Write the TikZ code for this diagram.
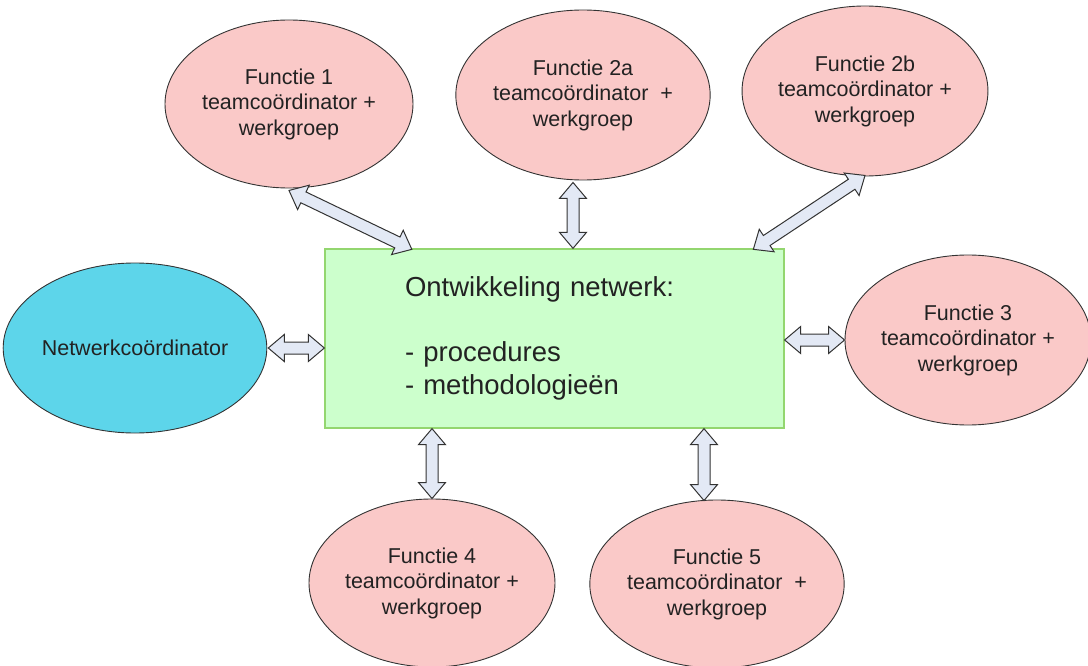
\documentclass[tikz,border=0pt]{standalone}
\usepackage{fontspec}
\setmainfont{Liberation Sans}
\usetikzlibrary{shapes.geometric,calc}

\definecolor{pinkfill}{HTML}{FAC9C8}
\definecolor{cyanfill}{HTML}{5DD5EA}
\definecolor{greenfill}{HTML}{CCFFCC}
\definecolor{greenline}{HTML}{93D66F}
\definecolor{arrowfill}{HTML}{E3E9F5}
\definecolor{outline}{HTML}{333333}
\definecolor{textgray}{HTML}{222222}

\tikzset{
  roundbox/.style={ellipse, draw=outline, line width=0.9pt, inner sep=0pt,
    align=center, text=textgray, font=\fontsize{21.5}{25.5}\selectfont},
  func/.style={roundbox, fill=pinkfill},
  coord/.style={roundbox, fill=cyanfill},
  centerbox/.style={rectangle, draw=greenline, line width=1.3pt, fill=greenfill,
    minimum width=459pt, minimum height=179pt, inner sep=0pt,
    text width=299pt, align=left, text=textgray,
    font=\fontsize{27.5}{32.5}\selectfont},
  blockarrow/.style={draw=outline, fill=arrowfill, line width=1pt, line join=miter}
}

% double-headed block arrow between two named points
\newcommand\dblarrow[2]{%
  \filldraw[blockarrow]
    (#1)
    -- ($(#1)!16pt!(#2)!13.5pt!90:(#2)$)
    -- ($(#1)!16pt!(#2)!6pt!90:(#2)$)
    -- ($(#2)!16pt!(#1)!6pt!-90:(#1)$)
    -- ($(#2)!16pt!(#1)!13.5pt!-90:(#1)$)
    -- (#2)
    -- ($(#2)!16pt!(#1)!13.5pt!90:(#1)$)
    -- ($(#2)!16pt!(#1)!6pt!90:(#1)$)
    -- ($(#1)!16pt!(#2)!6pt!-90:(#2)$)
    -- ($(#1)!16pt!(#2)!13.5pt!-90:(#2)$)
    -- cycle;}

\begin{document}
\begin{tikzpicture}[x=1pt,y=-1pt]
  \useasboundingbox (0,0) rectangle (1088,666);

  % central box
  \node[centerbox] (box) at (554.5,338.5)
    {Ontwikkeling netwerk:\\[32.5pt]- procedures\\- methodologieën};

  % surrounding roles
  \node[func, minimum width=248pt, minimum height=168pt] (f1) at (289,104)
    {Functie 1\\teamcoördinator +\\werkgroep};
  \node[func, minimum width=246pt, minimum height=170pt] (f2a) at (583,95)
    {Functie 2a\\teamcoördinator~ +\\werkgroep};
  \node[func, minimum width=244pt, minimum height=170pt] (f2b) at (865,91)
    {Functie 2b\\teamcoördinator +\\werkgroep};
  \node[coord, minimum width=246pt, minimum height=170pt] (nc) at (135,348)
    {Netwerkcoördinator};
  \node[func, minimum width=246pt, minimum height=170pt] (f3) at (968,340)
    {Functie 3\\teamcoördinator +\\werkgroep};
  \node[func, minimum width=246pt, minimum height=168pt] (f4) at (432,583)
    {Functie 4\\teamcoördinator +\\werkgroep};
  \node[func, minimum width=248pt, minimum height=168pt] (f5) at (717,584)
    {Functie 5\\teamcoördinator~ +\\werkgroep};

  % arrow end points
  \coordinate (a1s) at ($(f1.south)+(0,2)$);
  \coordinate (a1e) at ($(box.north west)!0.19!(box.north east)+(0,1)$);
  \coordinate (a2s) at ($(f2a.south)+(-10,2)$);
  \coordinate (a2e) at (a2s |- box.north);
  \coordinate (a3s) at ($(f2b.south)+(0,-1)$);
  \coordinate (a3e) at ($(box.north west)!0.932!(box.north east)+(0,1)$);
  \coordinate (a4s) at ($(nc.east)+(1,0)$);
  \coordinate (a4e) at (a4s -| box.west);
  \coordinate (a5s) at (f3.west);
  \coordinate (a5e) at (a5s -| box.east);
  \coordinate (a6s) at (f4.north);
  \coordinate (a6e) at (a6s |- box.south);
  \coordinate (a7s) at ($(f5.north)+(-13,1)$);
  \coordinate (a7e) at (a7s |- box.south);

  \dblarrow{a1s}{a1e}
  \dblarrow{a2s}{a2e}
  \dblarrow{a3s}{a3e}
  \dblarrow{a4s}{a4e}
  \dblarrow{a5s}{a5e}
  \dblarrow{a6s}{a6e}
  \dblarrow{a7s}{a7e}
\end{tikzpicture}
\end{document}
